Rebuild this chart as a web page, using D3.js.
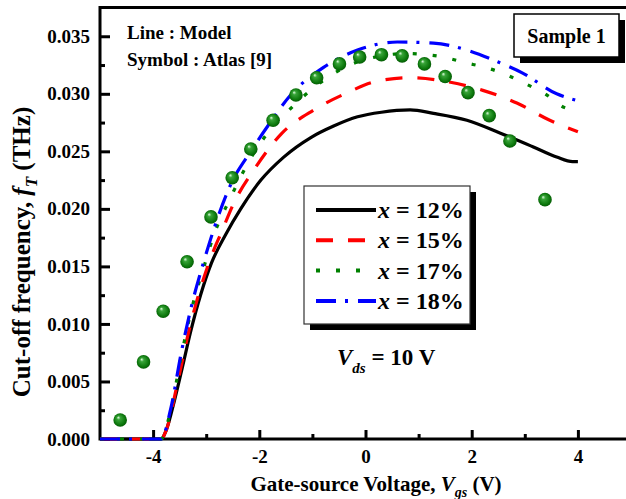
<!DOCTYPE html>
<html>
<head>
<meta charset="utf-8">
<script src="https://cdn.jsdelivr.net/npm/d3@7"></script>
<style>
  html, body { margin: 0; padding: 0; background: #fff; }
  svg { display: block; font-family: "Liberation Serif", "Times New Roman", serif; font-weight: bold; }
</style>
</head>
<body>
<div id="chart"></div>
<script>
// model curves, Vgs (V) vs fT (THz)
var vgs12 = [-5, -3.85, -3.75, -3.6, -3.45, -3.3, -3.1, -2.9, -2.63, -2.35, -1.97, -1.54, -1.03, -0.6, -0.15, 0.3, 0.84, 1.28, 1.91, 2.53, 3.15, 3.6, 3.9, 4.0];
var ft12  = [0, 0, 0.0008, 0.0033, 0.0062, 0.0092, 0.0126, 0.0153, 0.0178, 0.0200, 0.0225, 0.0245, 0.0262, 0.0272, 0.0280, 0.0284, 0.0286, 0.0283, 0.0277, 0.0266, 0.0254, 0.0245, 0.0241, 0.0241];

var vgs15 = [-5, -3.85, -3.75, -3.53, -3.32, -3.1, -2.85, -2.72, -2.47, -2.1, -1.59, -0.97, -0.34, 0.22, 0.84, 1.6, 2.21, 2.85, 3.47, 4.0];
var ft15  = [0, 0, 0.0008, 0.0051, 0.0095, 0.0132, 0.0165, 0.0179, 0.0206, 0.0234, 0.0265, 0.0286, 0.0301, 0.0311, 0.0314, 0.0310, 0.0303, 0.0292, 0.0277, 0.0267];

var vgs17 = [-5, -3.85, -3.66, -3.47, -3.28, -3.04, -2.85, -2.57, -2.16, -1.84, -1.5, -0.9, -0.3, 0.3, 0.8, 1.13, 1.46, 1.88, 2.25, 2.63, 3.0, 3.38, 3.75, 4.0];
var ft17  = [0, 0, 0.0027, 0.0072, 0.0112, 0.0150, 0.0178, 0.0207, 0.0244, 0.0266, 0.0283, 0.0308, 0.0325, 0.0333, 0.0335, 0.0334, 0.0332, 0.0327, 0.0323, 0.0317, 0.0309, 0.0300, 0.0288, 0.0285];

var vgs18 = [-5, -3.85, -3.66, -3.47, -3.28, -3.04, -2.83, -2.53, -2.16, -1.84, -1.41, -0.79, -0.15, 0.6, 1.28, 1.91, 2.53, 2.96, 3.6, 4.0];
var ft18  = [0, 0, 0.0028, 0.0075, 0.0115, 0.0155, 0.0186, 0.0222, 0.0250, 0.0272, 0.0299, 0.0323, 0.0338, 0.0345, 0.0344, 0.0338, 0.0327, 0.0318, 0.0300, 0.0294];

// Atlas [9] symbols
var atlasVgs = [-4.62, -4.18, -3.81, -3.36, -2.91, -2.51, -2.16, -1.74, -1.31, -0.92, -0.49, -0.11, 0.30, 0.69, 1.11, 1.50, 1.93, 2.33, 2.72, 3.38];
var atlasFt  = [0.00165, 0.0067, 0.0111, 0.0154, 0.0193, 0.0227, 0.0252, 0.0277, 0.0299, 0.0314, 0.0326, 0.0332, 0.0334, 0.0333, 0.0326, 0.0315, 0.0301, 0.0281, 0.0259, 0.0208];

var seriesNames = ["12%", "15%", "17%", "18%"];
var xMajor = [-4, -2, 0, 2, 4];
var xMinor = [-3, -1, 1, 3];
var yMajor = [0, 0.005, 0.010, 0.015, 0.020, 0.025, 0.030, 0.035];
var yMinor = [0.0025, 0.0075, 0.0125, 0.0175, 0.0225, 0.0275, 0.0325];

var W = 626, H = 499;
var x = d3.scaleLinear().domain([-5, 5]).range([100, 631]);
var y = d3.scaleLinear().domain([0, 0.0375]).range([439, 7.5]);

var svg = d3.select("#chart").append("svg")
    .attr("width", W)
    .attr("height", H);

var defs = svg.append("defs");
defs.append("clipPath").attr("id", "plotclip")
  .append("rect")
    .attr("x", x(-5)).attr("y", y(0.0375))
    .attr("width", x(5) - x(-5)).attr("height", y(0) - y(0.0375) + 3);

var grad = defs.append("radialGradient").attr("id", "ball")
    .attr("cx", "50%").attr("cy", "50%").attr("r", "55%")
    .attr("fx", "35%").attr("fy", "30%");
grad.append("stop").attr("offset", "0%").attr("stop-color", "#e8ffe8");
grad.append("stop").attr("offset", "25%").attr("stop-color", "#38a438");
grad.append("stop").attr("offset", "75%").attr("stop-color", "#0b760b");
grad.append("stop").attr("offset", "100%").attr("stop-color", "#035203");

// ticks (inside)
function noDomain(g) { g.select(".domain").remove(); }
function styleTicks(g) {
  g.selectAll("line").attr("stroke", "#000").attr("stroke-width", 3);
  g.selectAll("text").attr("font-size", 19).attr("font-family", "Liberation Serif").attr("font-weight", "bold").attr("fill", "#000");
}

svg.append("g")
    .attr("transform", "translate(0," + y(0) + ")")
    .call(d3.axisBottom(x).tickValues(xMajor).tickSize(-9).tickPadding(11).tickFormat(function(d) { return String(d); }))
    .call(noDomain)
    .call(styleTicks);
svg.append("g")
    .attr("transform", "translate(0," + y(0) + ")")
    .call(d3.axisBottom(x).tickValues(xMinor).tickSize(-5).tickFormat(""))
    .call(noDomain)
    .call(styleTicks);

svg.append("g")
    .attr("transform", "translate(" + x(-5) + ",0)")
    .call(d3.axisLeft(y).tickValues(yMajor).tickSize(-10).tickPadding(10).tickFormat(d3.format(".3f")))
    .call(noDomain)
    .call(styleTicks);
svg.append("g")
    .attr("transform", "translate(" + x(-5) + ",0)")
    .call(d3.axisLeft(y).tickValues(yMinor).tickSize(-5).tickFormat(""))
    .call(noDomain)
    .call(styleTicks);

// frame
svg.append("path")
    .attr("d", "M" + x(-5) + "," + y(0.0375) + "H" + (x(5) + 2) + "M" + x(-5) + "," + (y(0.0375) - 1.5) + "V" + (y(0) + 1.5) + "M" + (x(-5) - 1.5) + "," + y(0) + "H" + (x(5) + 2))
    .attr("fill", "none")
    .attr("stroke", "#000")
    .attr("stroke-width", 3);

// model lines
var series = [
  {name: seriesNames[0], xs: vgs12, ys: ft12, color: "#000000", dash: null},
  {name: seriesNames[1], xs: vgs15, ys: ft15, color: "#ff0000", dash: "17,15"},
  {name: seriesNames[2], xs: vgs17, ys: ft17, color: "#008000", dash: "4,16"},
  {name: seriesNames[3], xs: vgs18, ys: ft18, color: "#0000ff", dash: "20,9,3,10"}
];

var line = d3.line()
    .x(function(d) { return x(d[0]); })
    .y(function(d) { return y(d[1]); })
    .curve(d3.curveMonotoneX);

var plot = svg.append("g").attr("clip-path", "url(#plotclip)");

plot.selectAll("path.model")
    .data(series)
  .enter().append("path")
    .attr("class", "model")
    .attr("fill", "none")
    .attr("stroke", function(d) { return d.color; })
    .attr("stroke-width", 3.2)
    .attr("stroke-dasharray", function(d) { return d.dash; })
    .attr("d", function(d) { return line(d.xs.map(function(v, i) { return [v, d.ys[i]]; })); });

plot.selectAll("circle.atlas")
    .data(atlasVgs.map(function(v, i) { return [v, atlasFt[i]]; }))
  .enter().append("circle")
    .attr("class", "atlas")
    .attr("cx", function(d) { return x(d[0]); })
    .attr("cy", function(d) { return y(d[1]); })
    .attr("r", 6.8)
    .attr("fill", "url(#ball)");

// annotations
svg.append("text").attr("x", 127).attr("y", 39).attr("font-size", 19).text("Line : Model");
svg.append("text").attr("x", 127).attr("y", 66).attr("font-size", 19).text("Symbol : Atlas [9]");

svg.append("rect").attr("x", 520).attr("y", 20).attr("width", 105).attr("height", 43).attr("fill", "#000");
svg.append("rect").attr("x", 514).attr("y", 14).attr("width", 105).attr("height", 43)
    .attr("fill", "#fff").attr("stroke", "#000").attr("stroke-width", 1.5);
svg.append("text").attr("x", 566.5).attr("y", 43).attr("font-size", 20).attr("text-anchor", "middle").text("Sample 1");

var vds = svg.append("text").attr("x", 337).attr("y", 365).attr("font-size", 23);
vds.append("tspan").attr("font-style", "italic").text("V");
vds.append("tspan").attr("font-style", "italic").attr("font-size", 15).attr("dy", 8).text("ds");
vds.append("tspan").attr("dy", -8).text(" = 10 V");

// legend
var lg = svg.append("g");
lg.append("rect").attr("x", 310).attr("y", 192).attr("width", 166).attr("height", 138).attr("fill", "#000");
lg.append("rect").attr("x", 304).attr("y", 186).attr("width", 166).attr("height", 138)
    .attr("fill", "#fff").attr("stroke", "#333").attr("stroke-width", 1.2);

var rows = lg.selectAll("g.row")
    .data(series)
  .enter().append("g")
    .attr("class", "row")
    .attr("transform", function(d, i) { return "translate(0," + (210 + i * 30.3) + ")"; });
rows.append("line")
    .attr("x1", 316).attr("x2", 376).attr("y1", 0).attr("y2", 0)
    .attr("stroke", function(d) { return d.color; })
    .attr("stroke-width", 4)
    .attr("stroke-dasharray", function(d) { return d.dash; });
var lt = rows.append("text").attr("x", 378).attr("y", 8).attr("font-size", 24);
lt.append("tspan").attr("font-style", "italic").text("x");
lt.append("tspan").text(function(d) { return " = " + d.name; });

// axis titles
var xt = svg.append("text").attr("x", 376).attr("y", 491).attr("font-size", 21).attr("text-anchor", "middle");
xt.append("tspan").text("Gate-source Voltage, ");
xt.append("tspan").attr("font-style", "italic").text("V");
xt.append("tspan").attr("font-style", "italic").attr("font-size", 14).attr("dy", 6).text("gs");
xt.append("tspan").attr("dy", -6).text(" (V)");

var yt = svg.append("text").attr("transform", "translate(30,252) rotate(-90)").attr("font-size", 25).attr("text-anchor", "middle");
yt.append("tspan").text("Cut-off frequency, ");
yt.append("tspan").attr("font-style", "italic").text("f");
yt.append("tspan").attr("font-style", "italic").attr("font-size", 17).attr("dy", 7).text("T");
yt.append("tspan").attr("dy", -7).text(" (THz)");
</script>
</body>
</html>
